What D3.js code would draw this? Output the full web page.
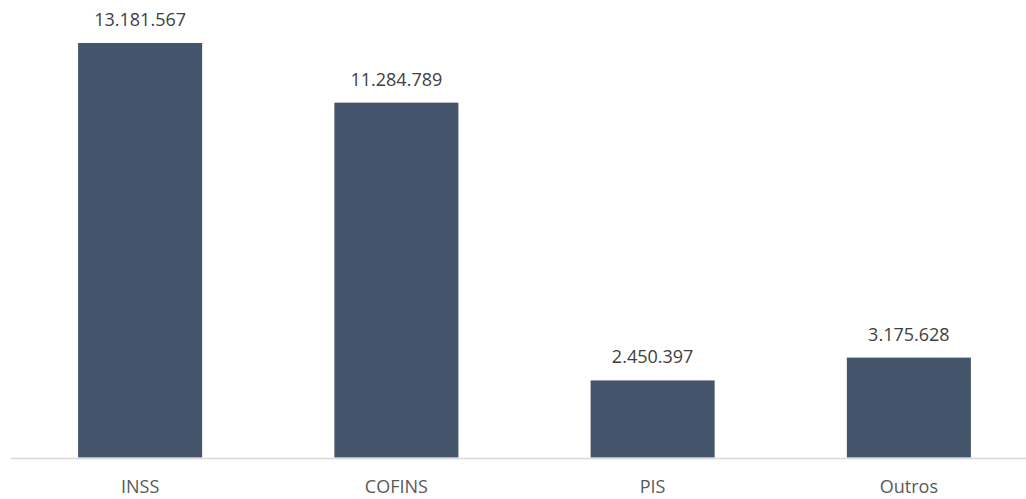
<!DOCTYPE html>
<html><head><meta charset="utf-8">
<script src="https://cdn.jsdelivr.net/npm/d3@7"></script>
<style>html,body{margin:0;padding:0;background:#fff;}svg{display:block;}</style>
</head><body>
<svg id="chart" width="1026" height="499"></svg>
<script>
const categories = ["INSS", "COFINS", "PIS", "Outros"];
const values = [13181567, 11284789, 2450397, 3175628];
const valueLabels = ["13.181.567", "11.284.789", "2.450.397", "3.175.628"];

const svg = d3.select("#chart");
const baseY = 457.5;
const x = d3.scaleBand().domain(categories).range([12, 1037]).padding(0);
const y = d3.scaleLinear().domain([0, 13181567]).range([baseY, 43]);
const barW = x.bandwidth() * 0.484;

svg.selectAll("rect.bar").data(categories).enter().append("rect")
  .attr("class", "bar")
  .attr("x", d => x(d) + x.bandwidth()/2 - barW/2)
  .attr("width", barW)
  .attr("y", (d,i) => y(values[i]))
  .attr("height", (d,i) => baseY - y(values[i]))
  .attr("fill", "#44546A");

svg.append("line").attr("x1", 11).attr("x2", 1026).attr("y1", 458.5).attr("y2", 458.5)
  .attr("stroke", "#D9D9D9").attr("stroke-width", 1.5);

svg.selectAll("text.val").data(categories).enter().append("text")
  .attr("class", "val")
  .attr("x", d => x(d) + x.bandwidth()/2)
  .attr("y", (d,i) => y(values[i]) - 17)
  .attr("text-anchor", "middle")
  .attr("font-family", "'Open Sans', sans-serif")
  .attr("font-size", 18)
  .attr("fill", "#404040")
  .text((d,i) => valueLabels[i]);

svg.selectAll("text.cat").data(categories).enter().append("text")
  .attr("class", "cat")
  .attr("x", d => x(d) + x.bandwidth()/2)
  .attr("y", 493)
  .attr("text-anchor", "middle")
  .attr("font-family", "'Open Sans', sans-serif")
  .attr("font-size", 18)
  .attr("fill", "#595959")
  .text(d => d);
</script>
</body></html>
